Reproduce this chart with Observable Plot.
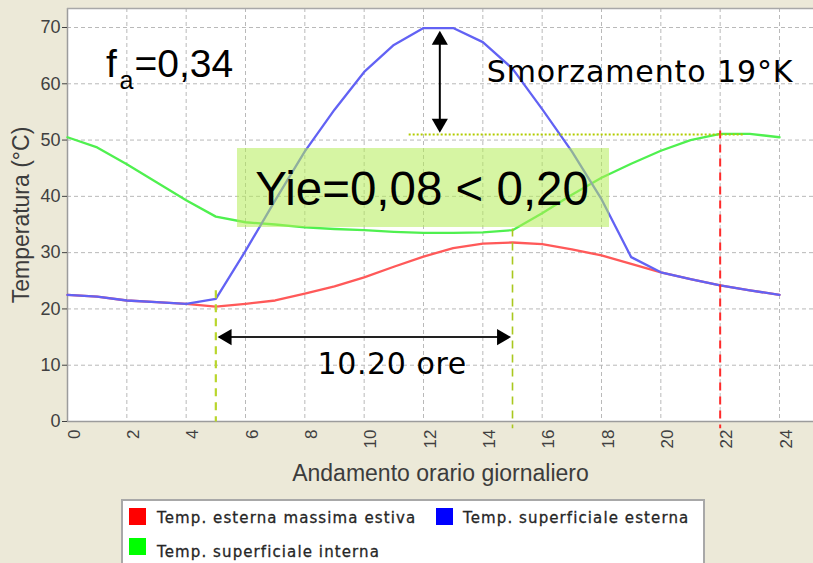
<!DOCTYPE html>
<html><head><meta charset="utf-8">
<script src="https://cdn.jsdelivr.net/npm/d3@7"></script>
<script src="https://cdn.jsdelivr.net/npm/@observablehq/plot@0.6"></script>
<style>
body{margin:0;background:#ece9d8;width:813px;height:563px;overflow:hidden;font-family:"Liberation Sans",Arial,sans-serif;position:relative;}
#chart svg{display:block;}
#legend{position:absolute;left:121px;top:499px;width:584px;height:80px;background:#fff;border:2px solid #a8a8a8;box-sizing:border-box;}
.sw{position:absolute;width:17px;height:17px;}
.lt{position:absolute;font-family:"DejaVu Sans",sans-serif;font-size:15px;letter-spacing:1.1px;color:#262626;-webkit-text-stroke:0.3px #262626;line-height:1;white-space:nowrap;}
</style></head><body>
<div id="chart"></div>
<div id="legend"></div>
<script>
// ---- data ----
const hours = [0,1,2,3,4,5,6,7,8,9,10,11,12,13,14,15,16,17,18,19,20,21,22,23,24];
const tEsternaMax = [22.5,22.2,21.5,21.2,20.9,20.4,20.9,21.5,22.7,24.0,25.6,27.5,29.3,30.8,31.6,31.8,31.5,30.6,29.5,28.0,26.5,25.3,24.2,23.3,22.5];
const tSupEsterna = [22.5,22.2,21.5,21.2,20.9,21.8,30.3,39.3,48.0,55.4,62.1,66.9,69.9,69.9,67.4,62.7,55.5,48.0,39.5,29.2,26.5,25.3,24.2,23.3,22.5];
const tSupInterna = [50.5,48.7,45.7,42.5,39.3,36.4,35.4,35.0,34.5,34.2,34.0,33.7,33.5,33.5,33.6,34.0,37.0,40.3,43.3,45.8,48.1,50.0,51.1,51.1,50.5];
const xTicks = [0,2,4,6,8,10,12,14,16,18,20,22,24];
const yTicks = [0,10,20,30,40,50,60,70];
const xTitle = "Andamento orario giornaliero";
const yTitle = "Temperatura (°C)";
const seriesNames = ["Temp. esterna massima estiva","Temp. superficiale esterna","Temp. superficiale interna"];
const seriesColors = ["#ff0000","#0000ff","#00ff00"];

// annotations (data units)
const guideHours = [5, 15, 22];
const guideTop = [23.3, 34.3, 51.7];
const guideBottom = [0, -1.2, -1.2];
const boxHours = [5.73, 18.27];
const boxTemps = [34.47, 48.5];
const smorzLineHours = [11.5, 22.8];
const smorzLineTemp = 51.0;
const vArrowHour = 12.55;
const vArrowTemps = [69.4, 51.3];
const hArrowTemp = 15.0;
const hArrowHours = [5.06, 14.95];
const labelTexts = ["Yie=0,08 < 0,20", "Smorzamento 19°K", "10.20 ore"];
const labelHours = [6.33, 14.13, 8.43];
const labelTemps = [38.38, 60.28, 8.47];
const faParts = ["f", "a", "=0,34"];
const faHours = [1.3, 1.75, 2.26];
const faTemps = [61.12, 59.16, 61.12];

const xDomain = [0, 25.146];
const yDomain = [0, 73.376];

const kx = (813 - 67) / (xDomain[1] - xDomain[0]);
const ky = (499 - 78 - 8) / (yDomain[1] - yDomain[0]);
const tipOff = 9.3;

const heads = [
  {x: vArrowHour, y: vArrowTemps[0] - tipOff / ky, r: 0},
  {x: vArrowHour, y: vArrowTemps[1] + tipOff / ky, r: 180},
  {x: hArrowHours[0] + tipOff / kx, y: hArrowTemp, r: -90},
  {x: hArrowHours[1] - tipOff / kx, y: hArrowTemp, r: 90}
];

const guideColors = ["#b9d62c", "#a9c81e", "#ff2a2a"];
const guideWidths = [2.2, 1.6, 2];
const guides = guideHours.map((h, i) => ({h, top: guideTop[i], bottom: guideBottom[i], c: guideColors[i], w: guideWidths[i]}));

const chart = Plot.plot({
  width: 813,
  height: 499,
  marginLeft: 67,
  marginRight: 0,
  marginTop: 8,
  marginBottom: 78,
  x: {domain: xDomain, axis: null},
  y: {domain: yDomain, axis: null},
  style: {background: "#ece9d8", fontFamily: "'Liberation Sans', Arial, sans-serif", overflow: "visible"},
  marks: [
    Plot.frame({fill: "white", stroke: "none"}),
    Plot.gridX(xTicks, {stroke: "#b9b9b9", strokeOpacity: 1, strokeDasharray: "4,3"}),
    Plot.gridY(yTicks, {stroke: "#b9b9b9", strokeOpacity: 1, strokeDasharray: "4,3"}),
    Plot.ruleX([xDomain[0]], {stroke: "#9c9c9c", strokeWidth: 1.5}),
    Plot.ruleY([yDomain[0]], {stroke: "#9c9c9c", strokeWidth: 1.6}),
    Plot.ruleY([yDomain[1]], {stroke: "#a8a8a8", strokeWidth: 1.5}),
    Plot.axisY(yTicks, {tickSize: 5, tickPadding: 2, fontSize: 18, color: "#404040", label: null}),
    Plot.text(xTicks, {x: d => d, frameAnchor: "bottom", rotate: -90, textAnchor: "end", lineAnchor: "top", dy: 8, fontSize: 17, fill: "#404040", text: d => String(d)}),
    Plot.text([yTitle], {frameAnchor: "left", dx: -39, rotate: -90, textAnchor: "middle", lineAnchor: "bottom", fontSize: 23, fill: "#3c3c3c", text: d => d}),
    Plot.text([xTitle], {frameAnchor: "bottom", dy: 59, textAnchor: "middle", lineAnchor: "bottom", fontSize: 23, fill: "#3c3c3c", text: d => d}),
    // series
    Plot.line(hours, {x: d => d, y: (d, i) => tSupInterna[i], stroke: "#4ff04f", strokeWidth: 2.3}),
    Plot.line(hours, {x: d => d, y: (d, i) => tEsternaMax[i], stroke: "#ff5959", strokeWidth: 2.3}),
    Plot.line(hours, {x: d => d, y: (d, i) => tSupEsterna[i], stroke: "#6262f4", strokeWidth: 2.3}),
    // guides
    Plot.link(guides, {x1: d => d.h, x2: d => d.h, y1: d => d.top, y2: d => d.bottom, stroke: d => d.c, strokeWidth: d => d.w, strokeDasharray: "8,6"}),
    Plot.link([0], {x1: () => smorzLineHours[0], x2: () => smorzLineHours[1], y1: () => smorzLineTemp, y2: () => smorzLineTemp, stroke: "#b2cc00", strokeWidth: 2, strokeDasharray: "2,2"}),
    // box
    Plot.rect([0], {x1: () => boxHours[0], x2: () => boxHours[1], y1: () => boxTemps[0], y2: () => boxTemps[1], fill: "#b4ec58", fillOpacity: 0.55}),
    // arrows
    Plot.link([0], {x1: () => vArrowHour, x2: () => vArrowHour, y1: () => vArrowTemps[0] - 4 / ky, y2: () => vArrowTemps[1] + 4 / ky, stroke: "black", strokeWidth: 2}),
    Plot.link([0], {x1: () => hArrowHours[0] + 4 / kx, x2: () => hArrowHours[1] - 4 / kx, y1: () => hArrowTemp, y2: () => hArrowTemp, stroke: "#222", strokeWidth: 2}),
    Plot.dot(heads, {x: "x", y: "y", rotate: "r", symbol: "triangle", r: 6, fill: "black", stroke: "none"}),
    // labels
    Plot.text([0], {x: () => labelHours[0], y: () => labelTemps[0], text: () => labelTexts[0], textAnchor: "start", lineAnchor: "bottom", fontSize: 47.5, fill: "black"}),
    Plot.text([1, 2], {x: i => labelHours[i], y: i => labelTemps[i], text: i => labelTexts[i], textAnchor: "start", lineAnchor: "bottom", fontSize: 30, fontFamily: "'DejaVu Sans', sans-serif", fill: "black"}),
    Plot.text([0, 2], {x: i => faHours[i], y: i => faTemps[i], text: i => faParts[i], textAnchor: "start", lineAnchor: "bottom", fontSize: 39, fill: "black"}),
    Plot.text([1], {x: i => faHours[i], y: i => faTemps[i], text: i => faParts[i], textAnchor: "start", lineAnchor: "bottom", fontSize: 25, fill: "black"})
  ]
});
document.getElementById("chart").appendChild(chart);

// slight letter spacing on the two DejaVu annotations
d3.select(chart).selectAll("text").filter(function() { return this.textContent === labelTexts[1]; }).attr("letter-spacing", 0.9);
d3.select(chart).selectAll("text").filter(function() { return this.textContent === labelTexts[2]; }).attr("letter-spacing", 0.6);

// legend
const lg = document.getElementById("legend");
const swPos = [[6, 7], [313, 7], [6, 37]];
const txPos = [[34, 10.3], [340, 10.3], [34, 44.1]];
seriesNames.forEach((name, i) => {
  const s = document.createElement("div");
  s.className = "sw";
  s.style.left = swPos[i][0] + "px";
  s.style.top = swPos[i][1] + "px";
  s.style.background = seriesColors[i];
  lg.appendChild(s);
  const t = document.createElement("div");
  t.className = "lt";
  t.style.left = txPos[i][0] + "px";
  t.style.top = txPos[i][1] + "px";
  t.textContent = name;
  lg.appendChild(t);
});
</script>
</body></html>
